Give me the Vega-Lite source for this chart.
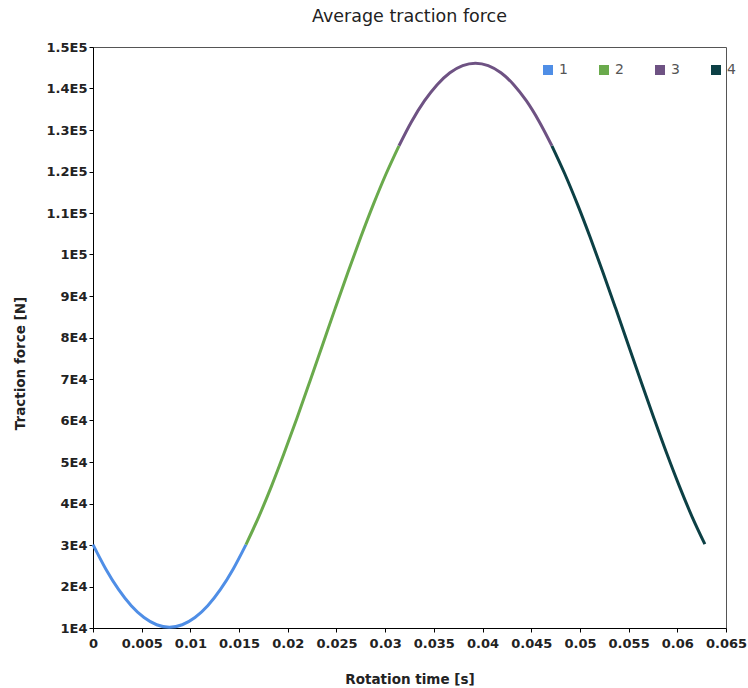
{
  "$schema": "https://vega.github.io/schema/vega-lite/v6.json",
  "autosize": {"type": "none"},
  "padding": {"left": 93, "top": 47, "right": 22, "bottom": 60},
  "width": 633,
  "height": 581,
  "background": "white",
  "title": {"text": "Average traction force", "fontSize": 17.5, "fontWeight": "normal", "font": "DejaVu Sans", "color": "#222", "offset": 16, "anchor": "middle"},
  "config": {
    "view": {"stroke": "#555", "strokeWidth": 1},
    "font": "DejaVu Sans",
    "axis": {"grid": false, "domainColor": "#000", "tickColor": "#000", "tickSize": 4, "labelFont": "DejaVu Sans", "labelFontSize": 13, "labelFontWeight": "bold", "labelColor": "#222", "titleFont": "DejaVu Sans", "titleFontSize": 13.5, "titleFontWeight": "bold", "titleColor": "#222"}
  },
  "data": {"values": [
    {"t": 0, "f": 30100, "s": "1"},
    {"t": 0.00131, "f": 24240, "s": "1"},
    {"t": 0.00262, "f": 19300, "s": "1"},
    {"t": 0.00393, "f": 15370, "s": "1"},
    {"t": 0.00524, "f": 12520, "s": "1"},
    {"t": 0.00654, "f": 10780, "s": "1"},
    {"t": 0.00785, "f": 10200, "s": "1"},
    {"t": 0.00916, "f": 10780, "s": "1"},
    {"t": 0.01047, "f": 12520, "s": "1"},
    {"t": 0.01178, "f": 15370, "s": "1"},
    {"t": 0.01309, "f": 19300, "s": "1"},
    {"t": 0.0144, "f": 24240, "s": "1"},
    {"t": 0.01571, "f": 30100, "s": "1"},
    {"t": 0.01571, "f": 30100, "s": "2"},
    {"t": 0.01702, "f": 36790, "s": "2"},
    {"t": 0.01833, "f": 44180, "s": "2"},
    {"t": 0.01963, "f": 52150, "s": "2"},
    {"t": 0.02094, "f": 60560, "s": "2"},
    {"t": 0.02225, "f": 69280, "s": "2"},
    {"t": 0.02356, "f": 78150, "s": "2"},
    {"t": 0.02487, "f": 87020, "s": "2"},
    {"t": 0.02618, "f": 95740, "s": "2"},
    {"t": 0.02749, "f": 104150, "s": "2"},
    {"t": 0.0288, "f": 112130, "s": "2"},
    {"t": 0.03011, "f": 119520, "s": "2"},
    {"t": 0.03142, "f": 126200, "s": "2"},
    {"t": 0.03142, "f": 126200, "s": "3"},
    {"t": 0.03272, "f": 132060, "s": "3"},
    {"t": 0.03403, "f": 137000, "s": "3"},
    {"t": 0.03534, "f": 140930, "s": "3"},
    {"t": 0.03665, "f": 143790, "s": "3"},
    {"t": 0.03796, "f": 145520, "s": "3"},
    {"t": 0.03927, "f": 146100, "s": "3"},
    {"t": 0.04058, "f": 145520, "s": "3"},
    {"t": 0.04189, "f": 143790, "s": "3"},
    {"t": 0.0432, "f": 140930, "s": "3"},
    {"t": 0.04451, "f": 137000, "s": "3"},
    {"t": 0.04581, "f": 132060, "s": "3"},
    {"t": 0.04712, "f": 126200, "s": "3"},
    {"t": 0.04712, "f": 126200, "s": "4"},
    {"t": 0.04843, "f": 119520, "s": "4"},
    {"t": 0.04974, "f": 112130, "s": "4"},
    {"t": 0.05105, "f": 104150, "s": "4"},
    {"t": 0.05236, "f": 95740, "s": "4"},
    {"t": 0.05367, "f": 87020, "s": "4"},
    {"t": 0.05498, "f": 78150, "s": "4"},
    {"t": 0.05629, "f": 69280, "s": "4"},
    {"t": 0.0576, "f": 60560, "s": "4"},
    {"t": 0.0589, "f": 52150, "s": "4"},
    {"t": 0.06021, "f": 44180, "s": "4"},
    {"t": 0.06152, "f": 36790, "s": "4"},
    {"t": 0.06283, "f": 30200, "s": "4"}
  ]},
  "mark": {"type": "line", "strokeWidth": 3, "interpolate": "monotone"},
  "encoding": {
    "x": {"field": "t", "type": "quantitative", "scale": {"domain": [0, 0.065], "nice": false, "zero": false},
      "axis": {"title": "Rotation time [s]", "values": [0, 0.005, 0.01, 0.015, 0.02, 0.025, 0.03, 0.035, 0.04, 0.045, 0.05, 0.055, 0.06, 0.065], "format": ".3~f", "labelPadding": 5, "titlePadding": 22, "labelFlush": false, "labelOverlap": false}},
    "y": {"field": "f", "type": "quantitative", "scale": {"domain": [10000, 150000], "nice": false, "zero": false},
      "axis": {"title": "Traction force [N]", "values": [10000, 20000, 30000, 40000, 50000, 60000, 70000, 80000, 90000, 100000, 110000, 120000, 130000, 140000, 150000], "labelExpr": "replace(format(datum.value, '.2~e'), 'e+', 'E')", "labelPadding": 2, "titleX": -73, "titleY": 316, "titleAlign": "center", "titleBaseline": "middle", "labelOverlap": false, "labelFlush": false}},
    "color": {"field": "s", "type": "nominal", "scale": {"domain": ["1", "2", "3", "4"], "range": ["#4f8ee6", "#6aaa4c", "#6e5283", "#0c4045"]},
      "legend": {"title": null, "orient": "none", "legendX": 448, "legendY": 16, "direction": "horizontal", "symbolType": "square", "symbolSize": 100, "labelFontSize": 14, "labelFont": "DejaVu Sans", "labelColor": "#555", "labelOffset": 4, "columnPadding": 29,
        "encode": {"symbols": {"update": {"fill": {"scale": "color", "field": "value"}, "strokeWidth": {"value": 0}}}}}},
    "detail": {"field": "s"}
  }
}
